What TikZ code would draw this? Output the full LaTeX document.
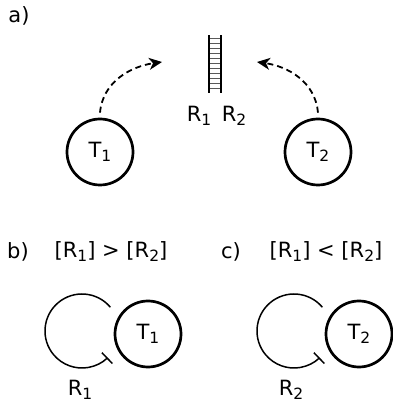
\documentclass[tikz,border=0pt]{standalone}
\usepackage{fontspec}
\setmainfont{DejaVu Sans}
\usetikzlibrary{arrows.meta,positioning,calc}
\newcommand{\idx}[1]{\raisebox{-0.35ex}{\fontsize{15.5}{15.5}\selectfont #1}}

\begin{document}
\begin{tikzpicture}[x=1pt, y=1pt,
    target/.style={circle, draw, line width=2.7pt, minimum size=66pt, inner sep=0pt, font=\fontsize{21}{24}\selectfont},
    txt/.style={inner sep=0pt, font=\fontsize{21}{24}\selectfont},
    flow/.style={line width=1.8pt, dash pattern=on 6pt off 4pt, -{Stealth[length=13pt, width=12pt, inset=4pt]}},
    selfloop/.style={line width=1.5pt, -{Bar[width=15pt, line width=1.5pt]}},
    rail/.style={line width=2.3pt},
    rung/.style={line width=0.9pt, black!65}
]
    \useasboundingbox (0,0) rectangle (393,405);

    % a) both targets draw on the duplex
    \node[txt] (pa) at (19,389) {a)};
    \node[target] (t1) at (100,253) {T\idx{1}};
    \node[target] (t2) at (318,253) {T\idx{2}};

    \node[minimum width=11pt, minimum height=57pt, inner sep=0pt] (dup) at (215,341) {};
    \foreach \i in {0,...,10}
        \draw[rung] ($(dup.north west)+(0,-3-5*\i)$) -- ++(11,0);
    \draw[rail] (dup.north west) -- (dup.south west);
    \draw[rail] (dup.north east) -- (dup.south east);
    \node[txt] (r1) at (199,289) {R\idx{1}};
    \node[txt] (r2) at (234,289) {R\idx{2}};

    \coordinate (inL) at (162,343);
    \coordinate (inR) at (257,343);
    \draw[flow] ([yshift=5pt]t1.north) to[out=85, in=188] (inL);
    \draw[flow] ([yshift=5pt]t2.north) to[out=95, in=-8] (inR);

    % b) and c)
    \node[txt] (pb) at (18,153) {b)};
    \node[txt] (condb) at (111,153) {[R\idx{1}] > [R\idx{2}]};
    \node[txt] (pc) at (231,153) {c)};
    \node[txt] (condc) at (326,153) {[R\idx{1}] < [R\idx{2}]};

    \node[target] (t1b) at (148,71) {T\idx{1}};
    \coordinate (lb) at (82,74);
    \draw[selfloop] ($(lb)+(40:37)$) arc[start angle=40, end angle=314, radius=37];
    \node[txt] (r1b) at (80,15) {R\idx{1}};

    \node[target] (t2c) at (359,71) {T\idx{2}};
    \coordinate (lc) at (294,74);
    \draw[selfloop] ($(lc)+(40:37)$) arc[start angle=40, end angle=314, radius=37];
    \node[txt] (r2c) at (291,15) {R\idx{2}};
\end{tikzpicture}
\end{document}
